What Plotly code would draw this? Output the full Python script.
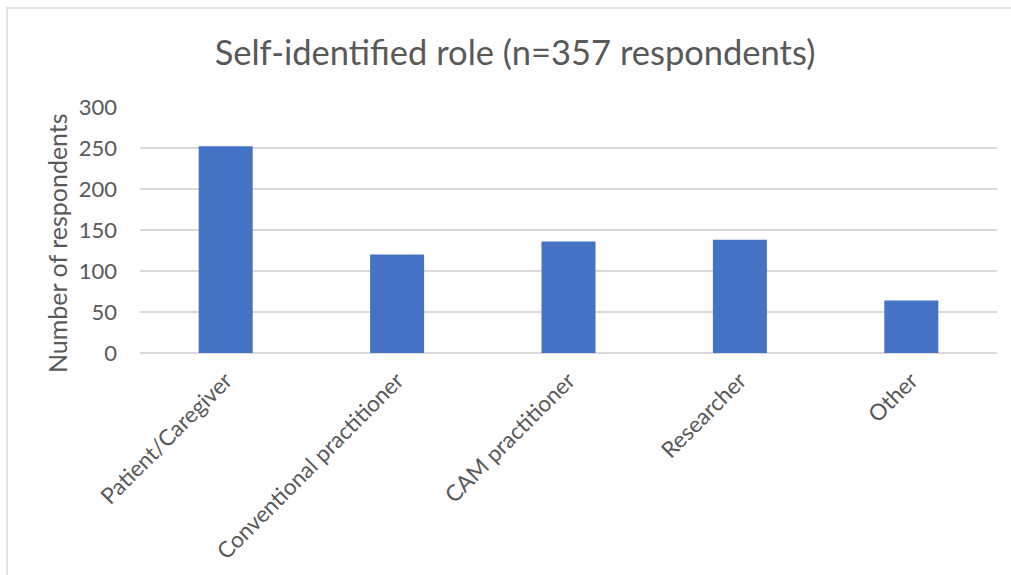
import plotly.graph_objects as go

categories = ["Patient/Caregiver", "Conventional practitioner", "CAM practitioner", "Researcher", "Other"]
respondents = [252, 120, 136, 138, 64]
y_ticks = [0, 50, 100, 150, 200, 250, 300]

W, H = 1011, 575
L, R, T, B = 140, 14, 107, 222
pw = W - L - R
ph = H - T - B

text_color = "#595959"
font = "Lato, 'Open Sans', sans-serif"

fig = go.Figure(go.Bar(
    x=categories, y=respondents,
    marker=dict(color="#4472C4", line=dict(width=0)),
    width=0.315,
))

fig.update_layout(
    width=W, height=H,
    margin=dict(l=L, r=R, t=T, b=B, autoexpand=False),
    paper_bgcolor="white", plot_bgcolor="white",
    font=dict(family=font, color=text_color, size=22),
    title=dict(text="Self-identified role (n=357 respondents)", x=515 / W, xref="container",
               xanchor="center", y=1 - 53 / H, yref="container", yanchor="middle",
               font=dict(size=34.5, color=text_color, family=font)),
    showlegend=False,
    shapes=[
        dict(type="rect", xref="paper", yref="paper",
             x0=(7 - L) / pw, x1=(W + 20 - L) / pw,
             y0=(H - B - (H + 20)) / ph, y1=(H - B - 8) / ph,
             line=dict(color="#D9D9D9", width=1.5), fillcolor="rgba(0,0,0,0)", layer="below"),
    ],
    annotations=[
        dict(text="Number of respondents", xref="paper", yref="paper",
             x=(57 - L) / pw, y=(H - B - 243) / ph, xanchor="center", yanchor="middle",
             textangle=-90, showarrow=False, font=dict(size=25, color=text_color, family=font)),
    ],
)
fig.update_xaxes(tickangle=-45, showgrid=False, showline=False, ticks="",
                 tickfont=dict(size=22.5, color=text_color), ticklabelstandoff=9)
fig.update_yaxes(range=[0, 300], tickvals=y_ticks, showgrid=True, gridcolor="#D9D9D9", gridwidth=1.5,
                 zeroline=True, zerolinecolor="#D9D9D9", zerolinewidth=1.5, showline=False, ticks="",
                 tickfont=dict(size=22, color=text_color), ticklabelstandoff=22)

fig.write_html("out.html", config={"displayModeBar": False},
               post_script="document.body.style.margin='0';document.body.style.overflow='hidden';")
